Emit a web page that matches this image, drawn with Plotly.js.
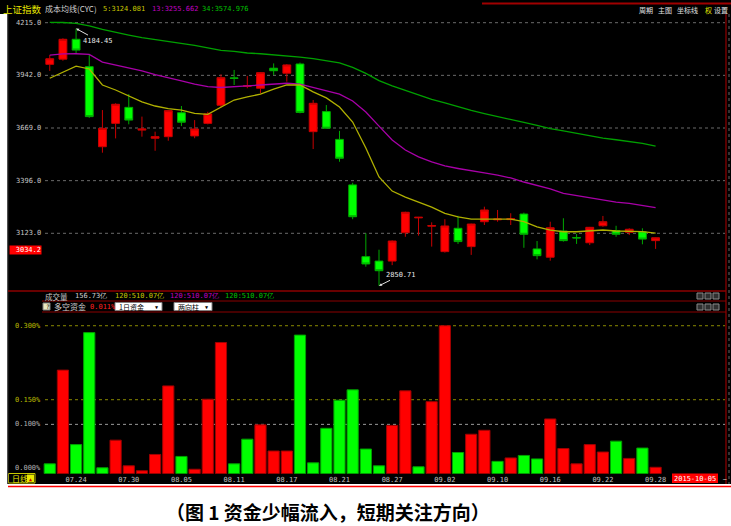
<!DOCTYPE html>
<html><head><meta charset="utf-8">
<script src="https://cdn.plot.ly/plotly-3.0.1.min.js"></script>
<style>html,body{margin:0;padding:0;background:#fff;}#chart{width:731px;height:526px;}</style>
</head><body><div id="chart"></div>
<script>
// ---------- data ----------
const dates = ['07.22','07.23','07.24','07.27','07.28','07.29','07.30','07.31','08.03','08.04','08.05','08.06','08.07','08.10','08.11','08.12','08.13','08.14','08.17','08.18','08.19','08.20','08.21','08.24','08.25','08.26','08.27','08.28','08.31','09.01','09.02','09.07','09.08','09.09','09.10','09.11','09.14','09.15','09.16','09.17','09.18','09.21','09.22','09.23','09.24','09.25','09.28'];
const openP  = [3999,4026,4129,3987,3572,3693,3776,3658,3616,3624,3748,3628,3693,3787,3929,3885,3875,3979,3953,4001,3650,3754,3610,3374,3002,2979,2979,3126,3203,3160,3028,3149,3054,3183,3193,3194,3223,3042,2999,3135,3101,3074,3162,3137,3128,3131,3085];
const highP  = [4047,4134,4184.45,4052,3762,3797,3845,3728,3650,3761,3783,3710,3753,3947,3970,3939,3958,4004,4000,4008,3814,3788,3654,3385,3123,3038,3086,3235,3208,3180,3196,3214,3173,3261,3244,3227,3230,3083,3183,3201,3120,3156,3213,3162,3149,3149,3101];
const lowP   = [3965,4018,4052,3722,3541,3615,3688,3624,3551,3603,3679,3616,3688,3776,3892,3875,3849,3944,3909,3745,3560,3665,3494,3196,2950,2850.71,2958,3105,3111,3054,3023,3068,3011,3166,3183,3166,3048,2988,2981,3080,3068,3062,3157,3105,3114,3066,3042];
const closeP = [4028,4129,4073,3728,3667,3792,3710,3664,3624,3759,3699,3664,3742,3930,3926,3888,3956,3966,3996,3750,3797,3668,3512,3209,2964,2929,3083,3232,3206,3163,3161,3080,3171,3244,3197,3199,3118,3007,3152,3085,3099,3154,3183,3118,3144,3093,3100];
const ma5  = [3927,3959,3990,3975,3892,3866,3835,3805,3783,3769,3762,3745,3740,3775,3814,3830,3845,3871,3892,3892,3856,3825,3778,3700,3565,3415,3342,3311,3285,3259,3226,3208,3197,3197,3197,3196,3183,3156,3140,3131,3131,3135,3140,3135,3135,3132,3124.081];
const ma13 = [4047,4053,4054,4051,4011,3996,3980,3965,3946,3928,3913,3897,3884,3879,3882,3887,3892,3897,3901,3896,3879,3861,3845,3809,3752,3679,3607,3555,3519,3493,3472,3459,3446,3436,3425,3410,3389,3371,3353,3330,3319,3306,3296,3285,3278,3267,3255.662];
const ma34 = [4217,4216,4211,4198,4180,4164,4151,4138,4128,4118,4107,4097,4084,4071,4066,4058,4054,4049,4043,4037,4029,4019,4007,3983,3952,3915,3887,3864,3840,3817,3799,3778,3760,3744,3729,3716,3698,3682,3666,3654,3641,3628,3617,3608,3599,3589,3574.976];
// fund flow (%): positive = inflow (red), negative = outflow (green)
const flow = [-0.020,0.210,-0.059,-0.286,-0.012,0.068,0.016,0.006,0.039,0.178,-0.035,0.009,0.151,0.266,-0.020,-0.070,0.099,0.046,0.046,-0.281,-0.022,-0.092,-0.149,-0.170,-0.050,-0.016,0.098,0.168,-0.014,0.146,0.300,-0.043,0.080,0.088,-0.025,0.032,-0.037,-0.030,0.111,0.051,0.020,0.059,0.044,-0.066,0.031,-0.052,0.013];
const dateTicks = ['07.24','07.30','08.05','08.11','08.17','08.21','08.27','09.02','09.10','09.16','09.22','09.28'];
const priceTicks = [4215,3942,3669,3396,3123];
const flowTicks = [0.300,0.150,0.100,0.000];
const cursorPrice = 3034.2;
const volText = '156.73亿';
const volMA = '120:510.07亿';
const flowNow = '0.011%';
const lastDate = '2015-10-05';
const caption = '（图 1 资金少幅流入，短期关注方向）';

// ---------- helpers ----------
const W = 731, H = 526;
const px = v => v / W, py = v => 1 - v / H;
const MONO = 'DejaVu Sans Mono, monospace';
const CJK = 'Noto Sans CJK SC, sans-serif';
const idx = dates.map((d, i) => i);

const shapes = [];
const ann = [];
function rect(x0, y0, x1, y1, fill, lineColor, lw) {
  shapes.push({type:'rect', xref:'paper', yref:'paper', x0:px(x0), x1:px(x1), y0:py(y0), y1:py(y1),
    fillcolor: fill, line:{color: lineColor || fill, width: lw == null ? 0 : lw}, layer:'below'});
}
function hline(x0, x1, y, color, w, dash) {
  shapes.push({type:'line', xref:'paper', yref:'paper', x0:px(x0), x1:px(x1), y0:py(y), y1:py(y),
    line:{color, width:w || 1, dash: dash || 'solid'}, layer:'above'});
}
function vline(x, y0, y1, color, w, dash) {
  shapes.push({type:'line', xref:'paper', yref:'paper', x0:px(x), x1:px(x), y0:py(y0), y1:py(y1),
    line:{color, width:w || 1, dash: dash || 'solid'}, layer:'above'});
}
function txt(x, y, text, color, size, family, anchor, extra) {
  ann.push(Object.assign({xref:'paper', yref:'paper', x:px(x), y:py(y), text, showarrow:false,
    font:{family: family || MONO, size: size || 7, color}, xanchor: anchor || 'left', yanchor:'middle'}, extra || {}));
}

// background
rect(0, 0, 731, 484, '#000000');
rect(0, 14, 7.5, 484, '#ffffff');
vline(7.8, 14, 484, '#3a3a3a', 1);
vline(726, 14, 484, '#b00000', 1);
vline(729, 14, 484, '#666666', 1, 'dot');
hline(482, 731, 3.5, '#a00000', 2);
// separators
hline(8, 726, 291, '#8b0000', 1.5);
hline(42, 726, 301, '#8b0000', 1);
hline(42, 726, 312, '#8b0000', 1);
hline(8, 731, 486.5, '#ff0000', 1.5);

// price grid + labels
priceTicks.forEach(t => {
  shapes.push({type:'line', xref:'paper', yref:'y', x0:px(45), x1:px(725), y0:t, y1:t,
    line:{color:'#6a6a6a', width:1, dash:'dot'}, layer:'below'});
  ann.push({xref:'paper', yref:'y', x:px(43), y:t, text:t.toFixed(1), showarrow:false,
    font:{family:MONO, size:7, color:'#c8c8c8'}, xanchor:'right', yanchor:'middle'});
});
// flow grid + labels
flowTicks.forEach(t => {
  const col = t >= 0.15 ? '#b8b800' : '#b0b0b0';
  if (t > 0) shapes.push({type:'line', xref:'paper', yref:'y2', x0:px(45), x1:px(725), y0:t, y1:t,
    line:{color: t >= 0.15 ? '#8a8a00' : '#9a9a9a', width:1, dash:'dot'}, layer:'below'});
  ann.push({xref:'paper', yref:'y2', x:px(43), y:t, text:t.toFixed(3) + '%', showarrow:false,
    font:{family:MONO, size:7, color:col}, xanchor:'right', yanchor: t === 0 ? 'bottom' : 'middle'});
});

// header
txt(1, 9, '上证指数', '#e8e800', 9.5, CJK);
txt(43, 9, '成本均线(CYC)', '#d0d0d0', 8, CJK);
txt(101, 9, '5:' + ma5[ma5.length - 1].toFixed(3), '#c8c800', 7);
txt(150, 9, '13:' + ma13[ma13.length - 1].toFixed(3), '#c000c0', 7);
txt(200, 9, '34:' + ma34[ma34.length - 1].toFixed(3), '#00c000', 7);
txt(637, 10, '周期', '#e0e0e0', 7, CJK);
txt(656, 10, '主图', '#e0e0e0', 7, CJK);
txt(675, 10, '坐标线', '#e0e0e0', 7, CJK);
txt(703, 10, '权', '#e8e800', 7, CJK);
txt(712, 10, '设置', '#e0e0e0', 7, CJK);

// volume row
txt(43, 296, '成交量', '#c8c8c8', 7.5, CJK);
txt(73, 296, volText, '#d0d0d0', 7, MONO);
txt(113, 296, volMA, '#c8c800', 7, MONO);
txt(168, 296, volMA, '#c000c0', 7, MONO);
txt(223, 296, volMA, '#00c000', 7, MONO);
// fund row
rect(43, 303, 50, 310, '#e8e8c0', '#808080', 1);
txt(44, 306.5, '?', '#000000', 6, MONO);
txt(52, 306.5, '多空资金', '#d0d0d0', 8, CJK);
txt(88, 306.5, flowNow, '#ff2020', 7, MONO);
rect(115, 302.5, 162, 310.5, '#ffffff', '#808080', 1);
txt(117, 306.5, '1日资金', '#000000', 7, CJK);
txt(153, 306.5, '▼', '#000000', 5, MONO);
rect(174, 302.5, 212, 310.5, '#ffffff', '#808080', 1);
txt(176, 306.5, '两向柱', '#000000', 7, CJK);
txt(203, 306.5, '▼', '#000000', 5, MONO);
// right icons
[[700,296],[708,296],[716,296],[700,307],[708,307],[716,307]].forEach(p => rect(p[0]-3, p[1]-3, p[0]+3, p[1]+3, '#303030', '#8a8a8a', 1));

// bottom strip
rect(8.5, 473.5, 35, 483, '#000000', '#c8c800', 1);
txt(10, 478.5, '日线', '#e8e800', 8, CJK);
rect(27, 474.5, 34, 482, '#e8e800', '#e8e800', 0);
txt(30.5, 478.5, '▲', '#d00000', 5, MONO, 'center');
rect(672, 473.5, 718, 483, '#ff0000');
txt(695, 478.5, lastDate, '#ffffff', 7, MONO, 'center');
txt(721, 478.5, '—', '#ffffff', 6, MONO);

// caption
txt(328, 511.5, caption, '#000000', 19, CJK, 'center', {font:{family:CJK, size:19, color:'#000000', weight:'bold'}, borderpad:0});

// price tag + extreme labels
ann.push({xref:'paper', yref:'y', x:px(9), y:cursorPrice, text:cursorPrice.toFixed(1), showarrow:false,
  font:{family:MONO, size:7, color:'#ffffff'}, bgcolor:'#ff0000', xanchor:'left', yanchor:'middle', width:31, align:'right', borderpad:0});
const hiIdx = highP.indexOf(Math.max(...highP));
const loIdx = lowP.indexOf(Math.min(...lowP));
ann.push({xref:'x', yref:'y', x:hiIdx, y:highP[hiIdx], text:highP[hiIdx].toFixed(2), showarrow:true,
  arrowhead:2, arrowsize:0.6, arrowwidth:1, arrowcolor:'#e0e0e0', ax:22, ay:12,
  font:{family:MONO, size:7, color:'#e8e8e8'}});
ann.push({xref:'x', yref:'y', x:loIdx, y:lowP[loIdx], text:lowP[loIdx].toFixed(2), showarrow:true,
  arrowhead:2, arrowsize:0.6, arrowwidth:1, arrowcolor:'#e0e0e0', ax:22, ay:-11,
  font:{family:MONO, size:7, color:'#e8e8e8'}});

// ---------- traces ----------
const traces = [
  {type:'candlestick', x:idx, open:openP, high:highP, low:lowP, close:closeP, xaxis:'x', yaxis:'y',
   increasing:{line:{color:'#c80000', width:1}, fillcolor:'#ff0000'},
   decreasing:{line:{color:'#00a800', width:1}, fillcolor:'#00ff00'},
   whiskerwidth:0, hoverinfo:'skip', showlegend:false},
  {type:'scatter', mode:'lines', x:idx, y:ma34, xaxis:'x', yaxis:'y', line:{color:'#00a000', width:1.3}, hoverinfo:'skip', showlegend:false},
  {type:'scatter', mode:'lines', x:idx, y:ma13, xaxis:'x', yaxis:'y', line:{color:'#a800a8', width:1.3}, hoverinfo:'skip', showlegend:false},
  {type:'scatter', mode:'lines', x:idx, y:ma5, xaxis:'x', yaxis:'y', line:{color:'#b0b000', width:1.3}, hoverinfo:'skip', showlegend:false},
  {type:'bar', x:idx, y:flow.map(Math.abs), xaxis:'x', yaxis:'y2', width:0.85,
   marker:{color:flow.map(v => v >= 0 ? '#ff0000' : '#00ff00'),
           line:{color:flow.map(v => v >= 0 ? '#a00000' : '#00a000'), width:1}},
   hoverinfo:'skip', showlegend:false}
];

const layout = {
  width:W, height:H, margin:{l:0, r:0, t:0, b:0},
  paper_bgcolor:'#ffffff', plot_bgcolor:'rgba(0,0,0,0)',
  showlegend:false, boxgap:0.15, bargap:0,
  xaxis:{domain:[px(8), px(725)], range:[-3.17, 51.27], anchor:'y2', showgrid:false, zeroline:false, showline:false,
    tickvals: dateTicks.map(d => dates.indexOf(d)), ticktext: dateTicks, ticks:'', ticklen:0,
    tickfont:{family:MONO, size:7, color:'#c0c0c0'}, rangeslider:{visible:false}, fixedrange:true},
  yaxis:{domain:[py(289), py(14)], range:[2834.2, 4260.1], anchor:'x', showgrid:false, zeroline:false,
    showticklabels:false, showline:false, fixedrange:true},
  yaxis2:{domain:[py(473.7), py(316)], range:[0, 0.3197], anchor:'x', showgrid:false, zeroline:false,
    showticklabels:false, showline:false, fixedrange:true},
  shapes, annotations: ann
};
Plotly.newPlot('chart', traces, layout, {staticPlot:true, displayModeBar:false});
</script>
</body></html>
